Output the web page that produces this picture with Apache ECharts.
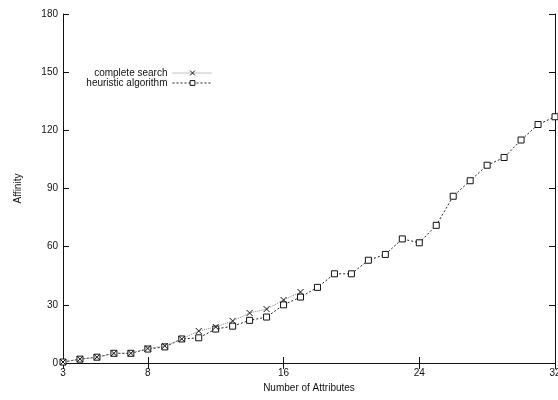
<!DOCTYPE html>
<html lang="en">

<head>
  <meta charset="UTF-8">
  <title>Affinity</title>
  <style>
    html,
    body {
      width: 100%;
      height: 100%;
      padding: 0;
      margin: 0;
      background: #fff;
    }

    #eChart {
      width: 558px;
      height: 400px;
    }
  </style>
</head>

<body>
  <div id="eChart"></div>

  <script src="https://cdn.jsdelivr.net/npm/echarts@6/dist/echarts.min.js"></script>
  <script>
    // attribute counts
    var attributes = [3, 4, 5, 6, 7, 8, 9, 10, 11, 12, 13, 14, 15, 16, 17, 18, 19, 20,
      21, 22, 23, 24, 25, 26, 27, 28, 29, 30, 31, 32];
    // complete search only goes up to 17 attributes
    var completeSearch = [0.5, 2, 3, 5, 5, 7.5, 8.8, 12.4, 16.5, 18.6, 21.7, 25.8, 27.8, 32.5, 36.6];
    var heuristic = [0.5, 2, 3, 5, 5, 7.2, 8.3, 12.4, 13, 17.5, 19, 22, 23.7, 30, 34, 39, 46, 46,
      53, 56, 64, 62, 71, 86, 94, 102, 106, 115, 123, 127];
    var xTicks = [3, 8, 16, 24, 32];

    function pairs(ys) {
      return ys.map(function (y, i) { return [attributes[i], y]; });
    }

    var font = { fontFamily: 'Liberation Sans', fontSize: 10, color: '#111' };
    var axisLine = { show: true, lineStyle: { color: '#111', width: 1 } };
    var tick = { inside: true, length: 6, lineStyle: { color: '#111' } };
    var crossMark = 'path://M0,0L10,10M10,0L0,10';

    function legendAt(top, name) {
      return {
        orient: 'vertical',
        right: 340,
        top: top,
        align: 'right',
        itemWidth: 40,
        itemHeight: 6,
        textStyle: font,
        itemStyle: { borderWidth: 1 },
        lineStyle: { width: 1 },
        data: [name]
      };
    }

    var myChart = echarts.init(document.getElementById('eChart'), null, { renderer: 'canvas' });

    myChart.setOption({
      animation: false,
      textStyle: font,
      grid: { left: 63, right: 3, top: 14, bottom: 37, outerBoundsMode: 'none' },
      legend: [legendAt(63, 'complete search'), legendAt(73, 'heuristic algorithm')],
      xAxis: [{
        type: 'value',
        min: 3,
        max: 32,
        name: 'Number of Attributes',
        nameLocation: 'middle',
        nameGap: 20,
        nameTextStyle: font,
        axisLine: axisLine,
        axisTick: Object.assign({ customValues: xTicks }, tick),
        axisLabel: Object.assign({ customValues: xTicks, margin: 5 }, font),
        splitLine: { show: false }
      }, {
        type: 'value',
        min: 3,
        max: 32,
        position: 'top',
        axisLine: axisLine,
        axisTick: Object.assign({ customValues: xTicks }, tick),
        axisLabel: { show: false, customValues: xTicks },
        splitLine: { show: false }
      }],
      yAxis: [{
        type: 'value',
        min: 0,
        max: 180,
        interval: 30,
        name: 'Affinity',
        nameLocation: 'middle',
        nameGap: 40,
        nameTextStyle: font,
        axisLine: axisLine,
        axisTick: tick,
        axisLabel: Object.assign({ margin: 5 }, font),
        splitLine: { show: false }
      }, {
        type: 'value',
        min: 0,
        max: 180,
        interval: 30,
        position: 'right',
        axisLine: axisLine,
        axisTick: tick,
        axisLabel: { show: false },
        splitLine: { show: false }
      }],
      series: [{
        name: 'complete search',
        type: 'line',
        data: pairs(completeSearch),
        symbol: crossMark,
        symbolSize: 6,
        showAllSymbol: true,
        lineStyle: { color: '#888', width: 1, type: [1, 1] },
        itemStyle: { color: '#fff', borderColor: '#111', borderWidth: 1 },
        z: 3
      }, {
        name: 'heuristic algorithm',
        type: 'line',
        data: pairs(heuristic),
        symbol: 'rect',
        symbolSize: 6,
        showAllSymbol: true,
        lineStyle: { color: '#222', width: 1, type: [2, 2] },
        itemStyle: { color: '#fff', borderColor: '#111', borderWidth: 1 },
        z: 2
      }]
    });
  </script>
</body>

</html>
